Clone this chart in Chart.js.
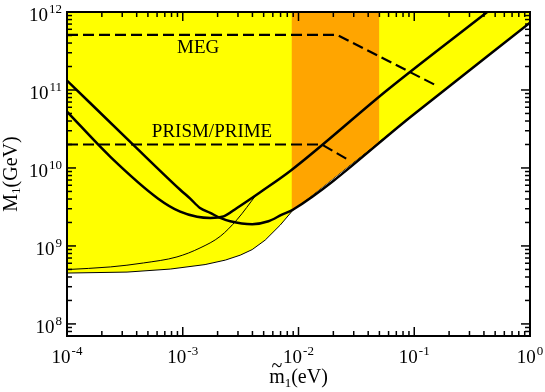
<!DOCTYPE html>
<html>
<head>
<meta charset="utf-8">
<script src="https://cdn.jsdelivr.net/npm/chart.js@4/dist/chart.umd.min.js"></script>
<style>
  html, body { margin: 0; padding: 0; background: #fff; }
  canvas { display: block; }
</style>
</head>
<body>
<canvas id="chart" width="545" height="392"></canvas>
<script>
// values, pairs of [m1 tilde (eV), M1 (GeV)]
const xTicks = [1e-4, 1e-3, 1e-2, 1e-1, 1];
const xTickExps = ['-4', '-3', '-2', '-1', '0'];
const yTicks = [1e8, 1e9, 1e10, 1e11, 1e12];
const yTickExps = ['8', '9', '10', '11', '12'];

// lower edge of the allowed (yellow) region
const regionEdge = [
  [1e-4, 4.49e8], [3.3e-4, 4.62e8], [7.8e-4, 5.05e8], [1.56e-3, 5.77e8],
  [2.33e-3, 6.58e8], [3.14e-3, 7.62e8], [3.98e-3, 8.98e8], [5.16e-3, 1.19e9],
  [6.95e-3, 1.85e9], [8.9e-3, 2.85e9], [1, 7.3e11]
];
// orange band
const bandEdge = [[0.0087, 2.75e9], [0.05, 2.18e10]];

// thick curves
const curveA = [
  [1e-4, 1.32e11], [3.74e-4, 1.98e10], [9.5e-4, 5.26e9], [1.16e-3, 4.04e9],
  [1.41e-3, 3.07e9], [1.73e-3, 2.65e9], [2.11e-3, 2.29e9], [2.57e-3, 2.07e9],
  [3.98e-3, 1.90e9], [5.5e-3, 2.07e9], [7.19e-3, 2.52e9], [9.0e-3, 2.93e9],
  [0.1, 4.92e10], [1, 7.3e11]
];
const curveB = [
  [1e-4, 5.28e10], [2.37e-4, 1.39e10], [6.14e-4, 4.04e9], [9.5e-4, 2.75e9],
  [1.33e-3, 2.37e9], [1.73e-3, 2.29e9], [2.25e-3, 2.39e9], [2.94e-3, 3.07e9],
  [4.67e-3, 4.89e9], [8.65e-3, 9.36e9], [0.06, 1.03e11], [0.427, 1e12]
];
// thin curve
const curveThin = [
  [1e-4, 4.98e8], [2.37e-4, 5.38e8], [4.58e-4, 6.05e8], [8.91e-4, 7.23e8],
  [1.41e-3, 9.42e8], [2.11e-3, 1.33e9], [2.94e-3, 2.17e9], [4.32e-3, 4.54e9]
];
// dashed sensitivity lines
const megLine = [[1e-4, 5.1e11], [0.0215, 5.1e11], [0.157, 1.13e11]];
const prismLine = [[1e-4, 2e10], [0.0159, 2e10], [0.027, 1.27e10]];

const FONT = '"Liberation Serif", "Times New Roman", serif';

function pts(a) {
  return a.map(function (p) { return { x: p[0], y: p[1] }; });
}

function line(ctx, x1, y1, x2, y2) {
  ctx.beginPath();
  ctx.moveTo(x1, y1);
  ctx.lineTo(x2, y2);
  ctx.stroke();
}

function power(ctx, exp, x, base, align) {
  ctx.font = '19px ' + FONT;
  var w1 = ctx.measureText('10').width;
  ctx.font = '13px ' + FONT;
  var w2 = ctx.measureText(exp).width;
  var left = align == 'center' ? x - (w1 + w2 + 1) / 2 : x - w1 - w2 - 1;
  ctx.textAlign = 'left';
  ctx.font = '19px ' + FONT;
  ctx.fillText('10', left, base);
  ctx.font = '13px ' + FONT;
  ctx.fillText(exp, left + w1 + 1, base - 8);
}

const decorations = {
  id: 'decorations',
  afterDraw: function (chart) {
    var ctx = chart.ctx, a = chart.chartArea;
    var xs = chart.scales.x, ys = chart.scales.y;
    ctx.save();
    ctx.strokeStyle = '#000';
    ctx.fillStyle = '#000';
    ctx.textBaseline = 'alphabetic';

    // ticks, inward on all sides
    ctx.lineWidth = 1.5;
    for (var d = -4; d <= 0; d++) {
      for (var k = 1; k <= 9; k++) {
        var v = k * Math.pow(10, d);
        if (v > 1.0001) break;
        var px = xs.getPixelForValue(v);
        var len = k == 1 ? 9 : 5;
        line(ctx, px, a.bottom, px, a.bottom - len);
        line(ctx, px, a.top, px, a.top + len);
      }
    }
    for (var d = 7; d <= 12; d++) {
      for (var k = 1; k <= 9; k++) {
        var v = k * Math.pow(10, d);
        if (v < 6.99e7) continue;
        if (v > 1.0001e12) break;
        var py = ys.getPixelForValue(v);
        var len = k == 1 ? 9 : 5;
        line(ctx, a.left, py, a.left + len, py);
        line(ctx, a.right, py, a.right - len, py);
      }
    }

    // frame
    ctx.lineWidth = 2;
    ctx.strokeRect(a.left, a.top, a.right - a.left, a.bottom - a.top);

    // tick labels
    xTicks.forEach(function (v, i) {
      power(ctx, xTickExps[i], xs.getPixelForValue(v), a.bottom + 27, 'center');
    });
    yTicks.forEach(function (v, i) {
      power(ctx, yTickExps[i], a.left - 5, ys.getPixelForValue(v) + 9, 'right');
    });

    // in-plot labels
    ctx.font = '19px ' + FONT;
    ctx.textAlign = 'center';
    ctx.fillText('MEG', xs.getPixelForValue(1.36e-3), ys.getPixelForValue(2.96e11));
    ctx.fillText('PRISM/PRIME', xs.getPixelForValue(1.79e-3), ys.getPixelForValue(2.53e10));

    // x title: m~1(eV)
    ctx.textAlign = 'left';
    ctx.font = '20px ' + FONT;
    var wm = ctx.measureText('m').width;
    var wp = ctx.measureText('(eV)').width;
    ctx.font = '13px ' + FONT;
    var ws = ctx.measureText('1').width;
    var cx = (a.left + a.right) / 2;
    var x0 = cx - (wm + ws + wp) / 2;
    var by = 383;
    ctx.font = '20px ' + FONT;
    ctx.fillText('m', x0, by);
    ctx.textAlign = 'center';
    ctx.fillText('~', x0 + wm / 2, by - 11);
    ctx.textAlign = 'left';
    ctx.font = '13px ' + FONT;
    ctx.fillText('1', x0 + wm, by + 4);
    ctx.font = '20px ' + FONT;
    ctx.fillText('(eV)', x0 + wm + ws, by);

    // y title: M1(GeV)
    ctx.save();
    ctx.translate(17, (a.top + a.bottom) / 2);
    ctx.rotate(-Math.PI / 2);
    ctx.font = '20px ' + FONT;
    var wM = ctx.measureText('M').width;
    var wg = ctx.measureText('(GeV)').width;
    var y0 = -(wM + ws + wg) / 2;
    ctx.fillText('M', y0, 0);
    ctx.font = '13px ' + FONT;
    ctx.fillText('1', y0 + wM, 3);
    ctx.font = '20px ' + FONT;
    ctx.fillText('(GeV)', y0 + wM + ws, 0);
    ctx.restore();

    ctx.restore();
  }
};

new Chart(document.getElementById('chart'), {
  type: 'line',
  data: {
    datasets: [
      { data: pts(curveA), borderColor: '#000', borderWidth: 2.5, cubicInterpolationMode: 'monotone', order: 1 },
      { data: pts(curveB), borderColor: '#000', borderWidth: 2.5, cubicInterpolationMode: 'monotone', order: 1 },
      { data: pts(curveThin), borderColor: '#000', borderWidth: 1, cubicInterpolationMode: 'monotone', order: 2 },
      { data: pts(megLine), borderColor: '#000', borderWidth: 2.2, borderDash: [11, 5], order: 1 },
      { data: pts(prismLine), borderColor: '#000', borderWidth: 2.2, borderDash: [11, 5], order: 1 },
      { data: pts(bandEdge), borderWidth: 0, borderColor: 'rgba(0,0,0,0)', backgroundColor: '#ffa500', fill: 'end', order: 4 },
      { data: pts(regionEdge), borderColor: '#000', borderWidth: 1, backgroundColor: '#ffff00', fill: 'end', order: 5 }
    ]
  },
  options: {
    responsive: false,
    animation: false,
    events: [],
    elements: { point: { radius: 0 }, line: { tension: 0 } },
    layout: { padding: { left: 67, right: 15, top: 12, bottom: 56 } },
    scales: {
      x: { type: 'logarithmic', min: 1e-4, max: 1, display: false },
      y: { type: 'logarithmic', min: 7e7, max: 1e12, display: false }
    },
    plugins: { legend: { display: false }, tooltip: { enabled: false } }
  },
  plugins: [decorations]
});
</script>
</body>
</html>
